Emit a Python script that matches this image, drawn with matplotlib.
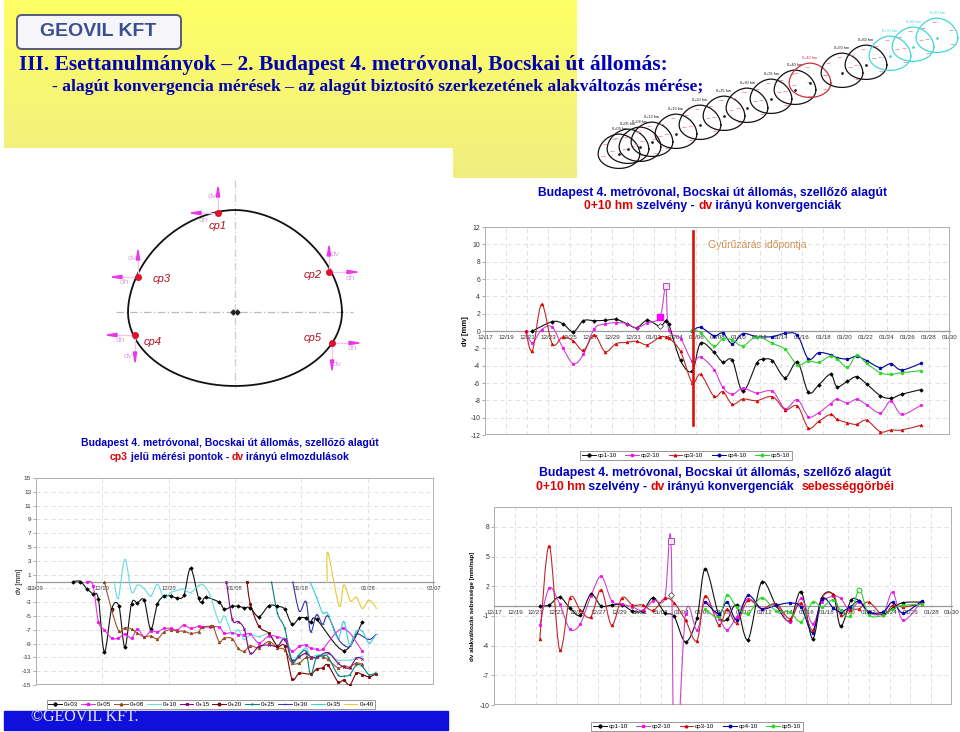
import numpy as np
import matplotlib
matplotlib.use('Agg')
import matplotlib.pyplot as plt
from matplotlib.path import Path
from matplotlib.patches import PathPatch, Rectangle, FancyBboxPatch, Polygon
from matplotlib.lines import Line2D

plt.rcParams['font.family'] = ['Liberation Sans', 'DejaVu Sans']
plt.rcParams['axes.unicode_minus'] = False

# Chart 1: 0+10 hm convergence, days counted from 12/17
date_labels = ['12/17', '12/19', '12/21', '12/23', '12/25', '12/27', '12/29', '12/31', '01/02', '01/04', '01/06', '01/08',
               '01/10', '01/12', '01/14', '01/16', '01/18', '01/20', '01/22', '01/24', '01/26', '01/28', '01/30']
date_days = list(range(0, 46, 2))

conv_cp1_days = [4.48, 6.37, 7.35, 8.36, 9.31, 10.35, 11.36, 12.4, 13.4, 14.35, 15.36, 16.56, 17.1, 17.38, 18.5, 19.6,
                 20.4, 21.67, 22.5, 23.4, 24.4, 25.7, 26.3, 27.2, 28.4, 29.56, 30.6, 31.58, 32.7, 33.3, 34.3, 35.17,
                 36.1, 37.4, 38.4, 39.43, 41.23]
conv_cp1 = [0, 1.08, .85, -.08, 1.19, 1.19, 1.23, 1.35, .85, .38, 1.23, .54, 1.19, .85, -3.4, -4.65, -1.42, -2.46, -3.58,
            -3.38, -6.96, -3.73, -3.27, -3.42, -5.38, -3.58, -7.08, -6.23, -5, -6.42, -5.8, -5.27, -6.1, -7.46, -7.77,
            -7.3, -6.77]
conv_cp23_days = [3.85, 4.48, 5.36, 6.37, 7.35, 8.36, 9.31, 10.35, 11.36, 12.4, 13.4, 14.35, 15.36, 16.56, 17.1, 17.38,
                  18.5, 19.6, 20.4, 21.67, 22.5, 23.4, 24.4, 25.7, 27.2, 28.4, 29.56, 30.6, 31.58, 32.7, 33.3, 34.3,
                  35.17, 36.1, 37.4, 38.4, 39.43, 41.23]
conv_cp2 = [0, -1.35, .15, .46, -1.92, -3.77, -2.69, .27, .81, .96, .85, .38, .92, 1.62, 5.15, .15, -.88, -3.46, -3,
            -4.46, -6.5, -7.3, -6.6, -7.15, -6.96, -8.96, -7.92, -9.88, -9.42, -8.38, -7.88, -8.3, -7.88, -8.5, -9.46,
            -8.08, -9.62, -8.58]
conv_cp3 = [0, -2.27, 3.08, -1.5, -.69, -1.15, -2.23, -.46, -2.38, -1.46, -1.31, -1.19, -1.58, -.69, -.69, -.77, -2.35,
            -5.96, -5, -7.54, -7, -8.46, -7.85, -8.04, -7.58, -9.08, -8.65, -11.19, -10.42, -9.62, -10.19, -10.58,
            -10.77, -10.3, -11.62, -11.42, -11.42, -10.88]
conv_cp45_days = [19.6, 20.4, 21.67, 22.5, 23.4, 24.4, 25.7, 27.2, 28.4, 29.56, 30.6, 31.58, 32.7, 33.3, 34.3, 35.17,
                  36.1, 37.4, 38.4, 39.43, 41.23]
conv_cp4 = [0, .42, -.54, -.23, -1.46, -.31, -.65, -.65, -.27, -.5, -3.23, -2.5, -2.73, -3.08, -3.23, -2.92, -3.42,
            -4.23, -3.77, -4.5, -3.73]
conv_cp5 = [.1, -.19, -1.73, -.88, -1.04, -1.73, -.65, -1.42, -2.12, -3.88, -3.46, -3.62, -2.88, -3.19, -4.19, -2.81,
            -3.73, -4.81, -5, -4.81, -4.58]
ring_closure_day = 19.7
ring_closure_span = [11.5, -10.9]

# Chart 3: speed curves on the same dates
speed_cp1_days = [4.4, 5.3, 6.3, 7.3, 8.3, 9.3, 10.3, 11.3, 12.3, 13.3, 14.3, 15.3, 16.4, 17.3, 18.4, 19.5, 20.3, 21.6,
                  22.4, 23.3, 24.4, 25.7, 27.1, 28.4, 29.5, 30.6, 31.5, 32.6, 33.3, 34.3, 35.1, 36, 37.4, 38.3, 39.3, 41.1]
speed_cp1 = [0, .1, .9, -.2, -.94, 1.17, 0, .1, .13, -.5, -.5, .84, -.67, -1.04, -3.62, -1.2, 3.76, -.94, -1.34, .07,
             -3.39, 2.38, .07, -1.5, 1.44, -3.29, .84, 1.1, -2.05, .57, .5, -.6, -.84, -.2, .34, .4]
speed_cp2_days = [4.4, 5.3, 6.3, 7.3, 8.3, 9.3, 10.3, 11.3, 12.3, 13.3, 14.3, 15.3, 16.4, 17, 17.38, 18.4, 19.5, 20.3,
                  21.6, 22.4, 23.3, 24.4, 25.7, 27.1, 28.4, 29.5, 30.6, 31.5, 32.6, 33.3, 34.2, 35.1, 36, 37.4, 38.3,
                  39.3, 41.1]
speed_cp2 = [-1.95, 1.81, .23, -2.35, -1.78, .97, 2.99, .54, .2, -.1, -.44, .54, .77, 6.58, -18, -.84, -2.42, .4, -1.28,
             -2.38, -1.1, .74, -.27, .13, -1.6, .77, -1.78, .4, .97, .77, -.44, .4, -.7, -.7, 1.41, -1.44, .5]
speed_cp3_days = [4.4, 5.3, 6.3, 7.3, 8.3, 9.3, 10.3, 11.3, 12.3, 13.3, 14.3, 15.3, 16.4, 17.3, 18.4, 19.5, 20.3, 21.6,
                  22.4, 23.3, 24.4, 25.7, 27.1, 28.4, 29.5, 30.6, 31.5, 32.6, 33.3, 34.2, 35.1, 36, 37.4, 38.3, 39.3, 41.1]
speed_cp3 = [-3.36, 6.1, -4.4, .84, -.44, -1.1, 1.64, -1.95, .84, .1, .1, -.44, .77, .34, -1.44, -3.49, 1.04, -1.91,
             -.3, -1.71, .57, -.27, .23, -1.28, .3, -2.45, .84, 1.17, -.94, -.37, -.27, .4, -.94, .07, -.1, .23]
speed_cp45_days = [20.3, 21.6, 22.4, 23.3, 24.4, 25.7, 27.1, 28.4, 29.5, 30.6, 31.5, 32.6, 33.3, 34.2, 35.1, 36, 37.4,
                   38.3, 39.3, 41.1]
speed_cp4 = [.4, -.77, .4, -1.38, 1.07, -.27, .07, .3, -.1, -2.68, .74, -.2, -.6, -.1, .5, -.6, -.6, .4, -.7, .5]
speed_cp5 = [-.34, -1.1, 1.07, -.1, -.77, .84, -.5, -.6, -1.58, .4, -.1, .64, -.44, -1, 1.64, -.87, -.94, -.27, .07, .17]
speed_diamond_day = 17
speed_diamond_value = 1.07

# Chart 2: cp3 displacement by chainage, days counted from 12/09
cp3_date_labels = ['12/09', '12/19', '12/29', '01/08', '01/18', '01/28', '02/07']
cp3_date_days = [0, 10, 20, 30, 40, 50, 60]

s03_days = [5.6, 6.7, 7.7, 8.6, 9.4, 10.3, 11.4, 12.5, 13.4, 14.4, 15.3, 16.3, 17.3, 18.3, 19.3, 20.3, 21.3, 22.3, 23.3,
            24.5, 25, 25.6, 27.6, 28.4, 29.6, 30.5, 31.4, 32.3, 33.6, 35.1, 36.4, 37.5, 38.6, 39.7, 40.7, 41.4, 42.3,
            46.4, 49.2]
s03 = [0, 0, -1.1, -1.8, -2.5, -10.2, -4, -3.6, -9.5, -3.2, -3.1, -2.7, -6.9, -3.3, -2.1, -2.1, -2.4, -2, 1.9, -2.4, -3,
       -2.3, -3, -4, -3.6, -3.6, -3.8, -3.8, -5.1, -3.5, -3.6, -4, -6.2, -5.3, -5.3, -5.9, -5.5, -10, -5.9]
s05_days = [7.7, 8.6, 9.4, 10.3, 11.4, 12.4, 13.4, 14.4, 15.3, 16.3, 17.3, 18.3, 19.3, 20.3, 21.3, 22.3, 23.3, 24.5, 25.2,
            26.2, 27.6, 28.4, 29.6, 30.5, 31.4, 32.3, 33.6, 35.1, 36.4, 37.5, 38.6, 39.7, 40.7, 41.4, 42.3, 43.2, 46.3, 49.2]
s05 = [0, -.6, -5.8, -7, -8.2, -8.2, -7.6, -8.2, -6.9, -8, -7.2, -7.3, -6.8, -6.8, -7, -6.3, -6.8, -6.5, -6.6, -6.6, -6.6,
       -7.5, -7.4, -7.7, -7.7, -7.6, -8.9, -7.9, -8, -8.5, -10.1, -9.4, -9.2, -9.7, -9.8, -9.8, -6.8, -10.1]
s08_days = [10.3, 11.4, 12.5, 13.4, 14.4, 15.3, 16.3, 17.3, 18.3, 19.3, 20.3, 21.3, 22.3, 23.3, 24.5, 25, 26.2, 26.7,
            27.6, 28.4, 29.6, 30.5, 31.4, 32.3, 33.6, 35.1, 36.4, 37.5, 38.6, 39.7, 40.7, 41.4, 42.3, 43.2, 44, 45.5,
            46.4, 47.3, 48.3, 49.2]
s08 = [0, -4.1, -7.2, -6.7, -6.9, -7.5, -8, -7.9, -8.3, -7.3, -7, -7.2, -7.2, -7.5, -7.3, -6.6, -6.5, -6.5, -8.7, -8.2,
       -8.3, -9.7, -10.1, -9.3, -9.6, -8.7, -9.6, -9.9, -11.8, -11.8, -11, -11.1, -11, -10.9, -11.3, -12.5, -12.2,
       -12.4, -11.8, -12]
s10_days = [11.8, 12.4, 13.4, 14.4, 15.3, 16.3, 17.3, 18.3, 19.3, 20.3, 21.3, 22.3, 23.3, 24.5, 25.2, 26.2, 27.6, 28.4,
            29.6, 30.5, 31.4, 32.3, 33.6, 35.1, 36.4, 37.5, 38.6, 39.7, 40.7, 41.4, 42.3, 43.2, 44, 45.5, 46.4, 47.3,
            48.3, 49.2]
s10 = [0, -2.4, 3.2, -1.5, -.5, -1, -2.1, -.4, -2.4, -1.6, -1.3, -1.1, -1.6, -.6, -.5, -1.9, -5.9, -5, -7.6, -7, -8.4,
       -7.7, -8, -7.6, -9.2, -8.2, -11.3, -10.5, -9.6, -10.9, -10.7, -10.8, -10.4, -11.4, -11.4, -11.4, -11.1, -10.8]
s15_days = [28.7, 29.6, 30.5, 31.4, 32.3, 33.6, 35.1, 36.4, 37.5, 38.6, 39.7, 40.7, 41.4, 42.3, 44, 45.5, 46.4, 47.3,
            48.3, 49.2]
s15 = [0, -5.5, -5.8, -6.9, -10.4, -9.4, -9.2, -9.4, -8.4, -11.4, -10.9, -10.4, -10.9, -11, -10.3, -11.8, -12.4, -12.5,
       -11.1, -11.2]
s20_days = [31.8, 32.3, 33.6, 35.1, 36.4, 37.5, 38.6, 39.7, 41.4, 42.3, 43.2, 44, 45.5, 46.4, 47.3, 48.3, 49.2, 50.2, 51.3]
s20 = [0, -3.2, -6.5, -7.5, -9.4, -9.4, -14.1, -13.3, -13.4, -12.7, -12.5, -12.1, -14.5, -14.3, -15, -13.3, -13.5, -13.8,
       -13.4]
s25_days = [35.5, 36.4, 37.5, 38.6, 39.7, 40.7, 41.4, 42.3, 43.2, 44, 45.5, 46.4, 47.3, 48.3, 49.2, 50.2, 51.3]
s25 = [0, -4.6, -6.8, -11.6, -10.6, -10.1, -13.5, -10.9, -10.8, -10.9, -13.5, -13.7, -13.5, -12.1, -12.3, -13.5, -13.2]
s30_days = [38.7, 39.7, 40.7, 41.4, 42.3, 43.2, 44, 45.5, 46.4, 47.3, 48.3, 50.2, 51.3]
s30 = [0, -4.3, -2.9, -7.3, -4.8, -6.2, -5, -8.2, -9.2, -9.4, -7.6, -8.4, -7.6]
s35_days = [41.3, 42.3, 43.2, 44, 45.5, 46.4, 47.3, 48.3, 49.2, 50.2, 51.3]
s35 = [0, -2.3, -4.5, -4.7, -8.2, -5.8, -9.2, -7.2, -7.2, -8.9, -7.6]
s40_days = [43.9, 44, 45.7, 46.4, 47.4, 48.3, 49.2, 50.2, 51.3]
s40 = [0, 4.2, -3.5, -.5, -2.8, -2.3, -3.9, -2.7, -3.8]

ring_labels = ['0+03 hm', '0+05 hm', '0+08 hm', '0+12 hm', '0+15 hm', '0+20 hm', '0+25 hm', '0+30 hm', '0+35 hm',
               '0+40 hm', '0+42 hm', '0+50 hm', '0+60 hm', '0+70 hm', '0+80 hm', '0+90 hm']
ring_x = [619, 628, 640, 652, 676, 700, 724, 747, 771, 795, 810, 842, 866, 890, 913, 937]
ring_y = [154, 149, 147, 142, 134, 125, 116, 108, 99, 90, 83, 73, 65, 56, 47, 38]

BLUE = '#0000C0'
RED = '#DD0000'
fig = plt.figure(figsize=(9.6, 7.32), dpi=100, facecolor='white')

# full page axes in pixel coordinates for the slide decoration
page = fig.add_axes([0, 0, 1, 1])
page.set_xlim(0, 960)
page.set_ylim(732, 0)
page.axis('off')


def box_axes(left, top, right, bottom):
    ax = fig.add_axes([left / 960, 1 - bottom / 732, (right - left) / 960, (bottom - top) / 732], zorder=3)
    ax.patch.set_alpha(0)
    return ax


def smooth_line(ax, days, values, color, lw=0.8):
    # smoothed Excel style line as bezier segments through the points
    pts = np.column_stack([days, values])
    verts = [pts[0]]
    codes = [Path.MOVETO]
    for i in range(len(pts) - 1):
        before = pts[max(i - 1, 0)]
        after = pts[min(i + 2, len(pts) - 1)]
        verts += [pts[i] + (pts[i + 1] - before) / 6, pts[i + 1] - (after - pts[i]) / 6, pts[i + 1]]
        codes += [Path.CURVE4] * 3
    ax.add_patch(PathPatch(Path(np.array(verts), codes), fill=False, edgecolor=color, lw=lw, zorder=3))


def draw_series(ax, days, values, style):
    smooth_line(ax, days, values, style['line'])
    ax.plot(days, values, ls='none', marker=style['marker'], color=style['color'], ms=style.get('ms', 2.0),
            mew=0.5, zorder=4, clip_on=True)


def style_chart(ax, xticks, xlabels, yticks, xlim, ylim, xsize=4.5, ysize=4.9):
    ax.set_xlim(*xlim)
    ax.set_ylim(*ylim)
    ax.set_xticks(xticks)
    ax.set_xticklabels(xlabels)
    ax.set_yticks(yticks)
    ax.tick_params(axis='y', labelsize=ysize, labelcolor='#333333', length=2, width=0.5, color='#888888', pad=1.5)
    ax.tick_params(axis='x', labelsize=xsize, labelcolor='#333333', length=0, pad=3)
    ax.grid(True, color='#dcdcdc', lw=0.6, ls=(0, (5, 4)))
    ax.set_axisbelow(True)
    for name in ['top', 'right', 'left']:
        ax.spines[name].set_visible(False)
    ax.spines['bottom'].set_position(('data', 0))
    ax.spines['bottom'].set_color('#999999')
    ax.spines['bottom'].set_linewidth(0.9)
    ax.add_patch(Rectangle((0, 0), 1, 1, transform=ax.transAxes, fill=False, ec='#aaaaaa', lw=1.3, zorder=2))


def text_width(text, size, weight):
    t = page.text(0, 0, text, fontsize=size, fontweight=weight)
    w = t.get_window_extent(fig.canvas.get_renderer()).width
    t.remove()
    return w


def color_line(center, y, parts, size):
    # one centred line made of runs with different colours
    full = ''.join(p[0] for p in parts)
    dot = text_width('.', size, 'bold')
    x = center - text_width(full, size, 'bold') / 2
    prefix = ''
    for part, color in parts:
        start = text_width(prefix + '.', size, 'bold') - dot if prefix else 0
        page.text(x + start, y, part, color=color, fontsize=size, fontweight='bold', ha='left', va='center')
        prefix += part


def tunnel_outline(cx, cy, scale):
    t = np.linspace(0, 2 * np.pi, 200)
    c, s = np.cos(t), np.sin(t)
    up = s >= 0
    xs = np.where(up, np.sign(c) * np.abs(c) ** (2 / 1.85), c) * 107 * scale
    ys = np.where(up, -np.abs(s) ** (2 / 1.85) * 102, -s * 74) * scale
    return cx + xs, cy + ys


def arrow(x0, y0, x1, y1):
    page.plot([x0, x1], [y0, y1], color='#eec4f2', lw=0.9, zorder=2)
    d = np.array([x1 - x0, y1 - y0], dtype=float)
    d /= np.hypot(*d)
    n = np.array([-d[1], d[0]])
    tip = np.array([x1, y1])
    page.add_patch(Polygon([tip, tip - d * 10 + n * 1.7, tip - d * 10 - n * 1.7], color='#E838E8', zorder=2))


# yellow slide background with the notch
grad = np.linspace(0, 1, 64)[:, None, None] * (np.array([240, 238, 128]) - np.array([255, 255, 102])) + np.array([255, 255, 102])
bg = page.imshow(grad / 255, extent=(4, 577, 178, 0), aspect='auto', zorder=0)
bg.set_clip_path(Polygon([(4, 0), (577, 0), (577, 178), (453, 178), (453, 148), (4, 148)], transform=page.transData))
page.set_xlim(0, 960)
page.set_ylim(732, 0)

# logo
page.add_patch(FancyBboxPatch((17, 15), 164, 34, boxstyle='round,pad=0,rounding_size=5', fc='#f6f6fa', ec='#555a78', lw=1.4, zorder=1))
page.text(98, 32, 'GEOVIL KFT', fontsize=14, fontweight='bold', color='#3a4f8f', ha='center', va='center', zorder=2)

page.text(19, 65, 'III. Esettanulmányok – 2. Budapest 4. metróvonal, Bocskai út állomás:', family='Liberation Serif',
          fontsize=15.5, fontweight='bold', color='#0000B4', va='center')
page.text(52, 87, '- alagút konvergencia mérések – az alagút biztosító szerkezetének alakváltozás mérése;',
          family='Liberation Serif', fontsize=12.6, fontweight='bold', color='#0000B4', va='center')

# little tunnel rings along the route
for i in range(len(ring_x)):
    ring_color = '#111111'
    if ring_labels[i] == '0+42 hm':
        ring_color = '#C83040'
    if i >= 13:
        ring_color = '#40D8D8'
    rx, ry = tunnel_outline(ring_x[i], ring_y[i], 0.195)
    page.plot(rx, ry, color=ring_color, lw=0.9, zorder=2)
    page.plot(ring_x[i], ring_y[i], marker='o', ms=1, color='#222222' if i < 13 else ring_color, zorder=2)
    for dx, dy in [(-14, -10), (14, -8), (-16, 2), (15, 6), (-3, -16)]:
        page.plot(ring_x[i] + dx, ring_y[i] + dy, marker='_', ms=3, mew=0.5, color='#E08090', zorder=2)
    page.text(ring_x[i], ring_y[i] - 25, ring_labels[i], fontsize=2.8, color=ring_color, ha='center', va='center', zorder=2)

# tunnel section with measuring points
sec_x, sec_y = tunnel_outline(235, 312, 1)
page.plot(sec_x, sec_y, color='#111111', lw=1.3, zorder=2)
page.plot([235, 235], [180, 388], color='#cccccc', lw=0.9, ls=(0, (6, 2, 1, 2)), zorder=1)
page.plot([116, 353], [312, 312], color='#bbbbbb', lw=0.9, ls=(0, (6, 2, 1, 2)), zorder=1)
page.plot(235, 312, marker='$\\leftrightarrow$', ms=6, color='#222222', zorder=2)

cp_names = ['cp1', 'cp2', 'cp3', 'cp4', 'cp5']
cp_x = [218, 329, 138, 135, 332]
cp_y = [213, 272, 277, 335, 343]
dv_ends = [187, 246, 250, 362, 370]
dh_ends = [191, 357, 112, 107, 359]
name_x = [218, 313, 162, 153, 313]
name_y = [226, 275, 279, 342, 338]
dv_label = [(212, 197), (335, 255), (132, 259), (128, 357), (337, 364)]
dh_label = [(203, 220), (350, 278), (124, 283), (120, 341), (352, 348)]
for i in range(5):
    arrow(cp_x[i], cp_y[i], cp_x[i], dv_ends[i])
    arrow(cp_x[i], cp_y[i], dh_ends[i], cp_y[i])
    page.plot(cp_x[i], cp_y[i], marker='o', ms=4, color='#E0102A', zorder=3)
    page.text(name_x[i], name_y[i], cp_names[i], fontsize=8, style='italic', color='#B01020', ha='center', va='center', zorder=3)
    page.text(*dv_label[i], 'dv', fontsize=6, color='#D8A8E0', ha='center', va='center', zorder=3)
    page.text(*dh_label[i], 'dh', fontsize=6, color='#D8A8E0', ha='center', va='center', zorder=3)

# bottom blue bar
page.add_patch(Rectangle((4, 711), 444, 19, color='#1010DD', zorder=1))
page.text(31, 717, '©GEOVIL KFT.', family='Liberation Serif', fontsize=11.5, color='#E4E4F4', va='center', zorder=2)

cp_styles = [
    {'line': '#111111', 'color': '#000000', 'marker': 'D', 'ms': 1.8},
    {'line': '#CC44CC', 'color': '#FF00FF', 'marker': 's'},
    {'line': '#C02828', 'color': '#DD0000', 'marker': '^'},
    {'line': '#000099', 'color': '#0000AA', 'marker': 'o'},
    {'line': '#33CC33', 'color': '#22DD22', 'marker': 'o'},
]
cp_legend = ['cp1-10', 'cp2-10', 'cp3-10', 'cp4-10', 'cp5-10']

# chart 1
ax1 = box_axes(485, 227, 950, 435)
style_chart(ax1, date_days, date_labels, list(range(-12, 13, 2)), (0, 44), (-12, 12))
conv_series = [(conv_cp1_days, conv_cp1), (conv_cp23_days, conv_cp2), (conv_cp23_days, conv_cp3),
               (conv_cp45_days, conv_cp4), (conv_cp45_days, conv_cp5)]
for (d, v), st in zip(conv_series, cp_styles):
    draw_series(ax1, d, v, st)
ax1.plot(conv_cp23_days[14], conv_cp2[14], marker='s', ms=4.5, mfc='#f4e0f4', mec='#B050B0', mew=0.7, zorder=5)
ax1.plot(conv_cp23_days[13], conv_cp2[13], marker='s', ms=4, color='#FF00FF', zorder=5)
ax1.plot(conv_cp1_days[11], conv_cp1[11], marker='D', ms=3, mfc='white', mec='#333333', mew=0.5, zorder=5)
ax1.plot([ring_closure_day, ring_closure_day], ring_closure_span, color='#DD1010', lw=1.9, zorder=6)
ax1.set_ylabel('dv [mm]', fontsize=5.5, fontweight='bold', labelpad=1)
page.text(757, 245, 'Gyűrűzárás időpontja', fontsize=7.5, color='#CF8A4A', ha='center', va='center', zorder=5)
color_line(713, 193, [('Budapest 4. metróvonal, Bocskai út állomás, szellőző alagút', BLUE)], 8.7)
color_line(713, 206, [('0+10 hm', RED), (' szelvény - ', BLUE), ('dv', RED), (' irányú konvergenciák', BLUE)], 8.7)

# chart 2
ax2 = box_axes(36, 478, 434, 685)
style_chart(ax2, cp3_date_days, cp3_date_labels, list(range(-15, 16, 2)), (0, 60), (-15, 15), xsize=4.2, ysize=4.6)
chainage = [
    ('0+03', s03_days, s03, '#111111', '#000000', 'D'),
    ('0+05', s05_days, s05, '#DD33DD', '#FF00FF', 's'),
    ('0+08', s08_days, s08, '#A0522D', '#8B4513', '^'),
    ('0+10', s10_days, s10, '#66DDDD', '#66DDDD', '_'),
    ('0+15', s15_days, s15, '#800080', '#800080', 'x'),
    ('0+20', s20_days, s20, '#800000', '#800000', 'o'),
    ('0+25', s25_days, s25, '#008080', '#008080', '+'),
    ('0+30', s30_days, s30, '#3333AA', '#3333AA', '_'),
    ('0+35', s35_days, s35, '#33CCDD', '#33CCDD', '_'),
    ('0+40', s40_days, s40, '#E8C832', '#E8C832', '_'),
]
for label, d, v, line, col, mk in chainage:
    draw_series(ax2, d, v, {'line': line, 'color': col, 'marker': mk, 'ms': 1.8})
ax2.set_ylabel('dv [mm]', fontsize=5, labelpad=-1)
color_line(230, 443, [('Budapest 4. metróvonal, Bocskai út állomás, szellőző alagút', BLUE)], 7.5)
color_line(230, 457, [('cp3', RED), (' jelű mérési pontok - ', BLUE), ('dv', RED), (' irányú elmozdulások', BLUE)], 7.5)

# chart 3
ax3 = box_axes(494, 507, 952, 705)
style_chart(ax3, date_days, date_labels, [-10, -7, -4, -1, 2, 5, 8], (0, 44), (-10, 10))
speed_series = [(speed_cp1_days, speed_cp1), (speed_cp2_days, speed_cp2), (speed_cp3_days, speed_cp3),
                (speed_cp45_days, speed_cp4), (speed_cp45_days, speed_cp5)]
for (d, v), st in zip(speed_series, cp_styles):
    draw_series(ax3, d, v, st)
ax3.plot(speed_cp2_days[13], speed_cp2[13], marker='s', ms=4.2, mfc='#f4e0f4', mec='#B050B0', mew=0.7, zorder=5)
ax3.plot(speed_diamond_day, speed_diamond_value, marker='D', ms=3, mfc='white', mec='#333333', mew=0.5, zorder=5)
ax3.plot(speed_cp45_days[14], speed_cp5[14], marker='o', ms=3.6, mfc='#d8f8d8', mec='#33BB33', mew=0.7, zorder=5)
ax3.set_ylabel('dv alakváltozás sebessége [mm/nap]', fontsize=4.5, fontweight='bold', labelpad=3)
color_line(715, 473, [('Budapest 4. metróvonal, Bocskai út állomás, szellőző alagút', BLUE)], 8.8)
color_line(715, 487, [('0+10 hm', RED), (' szelvény - ', BLUE), ('dv', RED), (' irányú konvergenciák  ', BLUE),
                      ('sebességgörbéi', RED)], 8.8)

# legends
cp_handles = [Line2D([], [], color=st['line'], lw=0.7, marker=st['marker'], mfc=st['color'], mec=st['color'], ms=1.8, label=name)
              for st, name in zip(cp_styles, cp_legend)]
chain_handles = [Line2D([], [], color=c[3], lw=0.7, marker=c[5], mfc=c[4], mec=c[4], ms=1.8, label=c[0]) for c in chainage]
legend_opts = dict(loc='center', fontsize=4.5, fancybox=False, framealpha=1, edgecolor='#888888', borderpad=0.3,
                   handlelength=2.2, handletextpad=0.3, labelspacing=0)
l1 = fig.legend(handles=cp_handles, bbox_to_anchor=(686 / 960, 1 - 455.5 / 732), ncol=5, columnspacing=1.35, **legend_opts)
l3 = fig.legend(handles=cp_handles, bbox_to_anchor=(697 / 960, 1 - 726.5 / 732), ncol=5, columnspacing=1.35, **legend_opts)
l2 = fig.legend(handles=chain_handles, bbox_to_anchor=(211 / 960, 1 - 704.5 / 732), ncol=10, columnspacing=0.47, **legend_opts)
for leg in [l1, l2, l3]:
    leg.get_frame().set_linewidth(0.6)

fig.savefig('out.png', dpi=100)
